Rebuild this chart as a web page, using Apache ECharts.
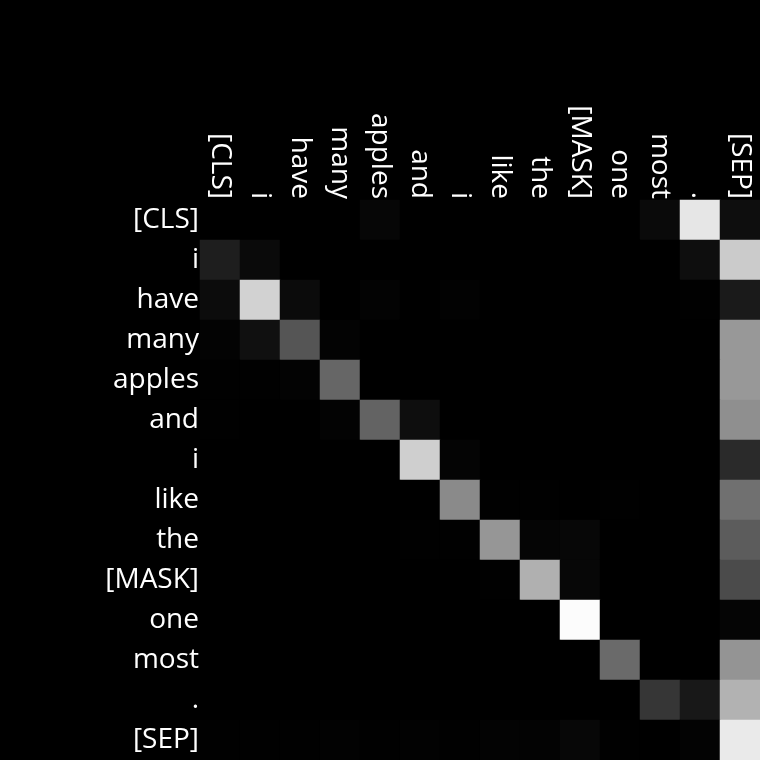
<!DOCTYPE html>
<html><head><meta charset="utf-8">
<script src="https://cdn.jsdelivr.net/npm/echarts@6/dist/echarts.min.js"></script>
<style>html,body{margin:0;padding:0;background:#000;}#c{width:760px;height:760px;}</style>
</head><body><div id="c"></div>
<script>
const tokens = ['[CLS]','i','have','many','apples','and','i','like','the','[MASK]','one','most','.','[SEP]'];
// attention weights as gray level 0..255, rows = query token, cols = key token
const row0  = [0,0,0,0,6,0,0,0,0,0,0,10,230,14];
const row1  = [30,10,0,0,0,0,0,0,0,0,0,0,14,203];
const row2  = [12,210,11,0,3,0,2,0,0,0,0,0,1,26];
const row3  = [3,16,85,3,0,0,0,0,0,0,0,0,0,152];
const row4  = [1,1,3,102,0,0,0,0,0,0,0,0,0,152];
const row5  = [1,0,0,3,99,14,0,0,0,0,0,0,0,143];
const row6  = [0,0,0,0,0,207,4,0,0,0,0,0,0,42];
const row7  = [0,0,0,0,0,0,138,1,1,0,1,0,0,112];
const row8  = [0,0,0,0,0,1,1,150,5,7,0,0,0,92];
const row9  = [0,0,0,0,0,0,0,1,176,7,0,0,0,75];
const row10 = [0,0,0,0,0,0,0,0,0,252,0,0,0,5];
const row11 = [0,0,0,0,0,0,0,0,0,0,106,0,0,148];
const row12 = [0,0,0,0,0,0,0,0,0,0,0,54,24,178];
const row13 = [1,1,1,2,1,2,1,3,3,7,1,0,3,234];
const rows = [row0,row1,row2,row3,row4,row5,row6,row7,row8,row9,row10,row11,row12,row13];

const data = [];
rows.forEach((r, yi) => r.forEach((v, xi) => data.push([xi, yi, v])));

const chart = echarts.init(document.getElementById('c'));
const font = "'Open Sans', 'Noto Sans', sans-serif";
chart.setOption({
  backgroundColor: '#000',
  animation: false,
  grid: {left: 200, top: 200, right: 0, bottom: 0},
  xAxis: {
    type: 'category', data: tokens, position: 'top',
    axisLine: {show: false}, axisTick: {show: false}, splitLine: {show: false},
    axisLabel: {rotate: 90, color: '#fff', fontSize: 28, fontFamily: font, margin: 1, interval: 0}
  },
  yAxis: {
    type: 'category', data: tokens, inverse: true,
    axisLine: {show: false}, axisTick: {show: false}, splitLine: {show: false},
    axisLabel: {color: '#fff', fontSize: 28, fontFamily: font, margin: 1, interval: 0, padding: [6, 0, 0, 0]}
  },
  visualMap: {show: false, min: 0, max: 255, inRange: {color: ['#000000', '#ffffff']}},
  series: [{type: 'heatmap', data: data, itemStyle: {borderWidth: 0}, emphasis: {disabled: true}}]
});
</script></body></html>
